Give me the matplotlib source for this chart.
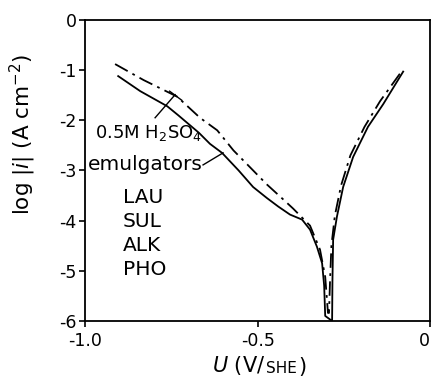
import matplotlib.pyplot as plt

plt.rcParams['font.family'] = ['DejaVu Sans']

# solid curve (cathodic branch, then anodic branch)
u_solid_c = [-0.904, -0.84, -0.762, -0.73, -0.67, -0.638, -0.603, -0.555, -0.513, -0.473, -0.44, -0.406,
             -0.371, -0.348, -0.328, -0.313, -0.307, -0.304]
i_solid_c = [-1.12, -1.42, -1.72, -1.9, -2.25, -2.47, -2.65, -3.0, -3.33, -3.55, -3.72, -3.88,
             -3.98, -4.18, -4.52, -4.85, -5.3, -5.9]
u_solid_a = [-0.284, -0.283, -0.281, -0.27, -0.252, -0.223, -0.18, -0.136, -0.078]
i_solid_a = [-6.0, -5.2, -4.38, -3.92, -3.33, -2.73, -2.13, -1.68, -1.03]

# dash-dot curve
u_dd_c = [-0.913, -0.83, -0.733, -0.667, -0.617, -0.57, -0.52, -0.473, -0.43, -0.397, -0.348,
          -0.319, -0.304, -0.296]
i_dd_c = [-0.88, -1.2, -1.53, -1.95, -2.2, -2.6, -2.95, -3.28, -3.55, -3.76, -4.1,
          -4.58, -5.12, -5.84]
u_dd_a = [-0.293, -0.29, -0.286, -0.276, -0.258, -0.231, -0.19, -0.145, -0.08]
i_dd_a = [-5.84, -5.2, -4.5, -3.9, -3.3, -2.7, -2.13, -1.62, -1.0]

emulgators = ['LAU', 'SUL', 'ALK', 'PHO']

fig = plt.figure(figsize=(4.34, 3.83), dpi=100)
ax = fig.add_axes([0.196, 0.162, 0.795, 0.786])

ax.plot(u_solid_c + u_solid_a, i_solid_c + i_solid_a, color='black', lw=1.3)
ax.plot(u_dd_c + u_dd_a, i_dd_c + i_dd_a, color='black', lw=1.3, dashes=[8, 3, 1.5, 3])

ax.set_xlim(-1.0, 0)
ax.set_ylim(-6, 0)
ax.set_xticks([-1.0, -0.5, 0])
ax.set_xticklabels(['-1.0', '-0.5', '0'])
ax.get_xticklabels()[-1].set_ha('right')
ax.set_yticks([0, -1, -2, -3, -4, -5, -6])
ax.set_yticklabels(['0', '-1', '-2', '-3', '-4', '-5', '-6'])
ax.tick_params(labelsize=12.5, length=4, width=1.2, direction='out')
ax.tick_params(axis='y', pad=2)
ax.tick_params(axis='x', pad=4)
for s in ax.spines.values():
    s.set_linewidth(1.3)

ax.set_ylabel(r'log $|i|$ (A cm$^{-2}$)', fontsize=15.5)
ax.yaxis.set_label_coords(-0.135, 0.62)
fig.text(0.488, 0.015, r'$U$ (V/', fontsize=15, ha='left', va='bottom')
fig.text(0.613, 0.018, 'SHE', fontsize=11, ha='left', va='bottom')
fig.text(0.688, 0.015, ')', fontsize=15, ha='left', va='bottom')

ax.text(-0.971, -2.25, r'0.5M H$_2$SO$_4$', fontsize=13, va='center')
ax.plot([-0.797, -0.739], [-1.95, -1.49], color='black', lw=1)
ax.plot([-0.755, -0.72], [-1.42, -1.6], color='black', lw=1)
ax.text(-0.993, -2.89, 'emulgators', fontsize=14.5, va='center')
ax.plot([-0.658, -0.6], [-2.89, -2.65], color='black', lw=1)
for k, name in enumerate(emulgators):
    ax.text(-0.89, -3.53 - 0.482 * k, name, fontsize=14.5, va='center')

fig.savefig('out.png', dpi=100)
